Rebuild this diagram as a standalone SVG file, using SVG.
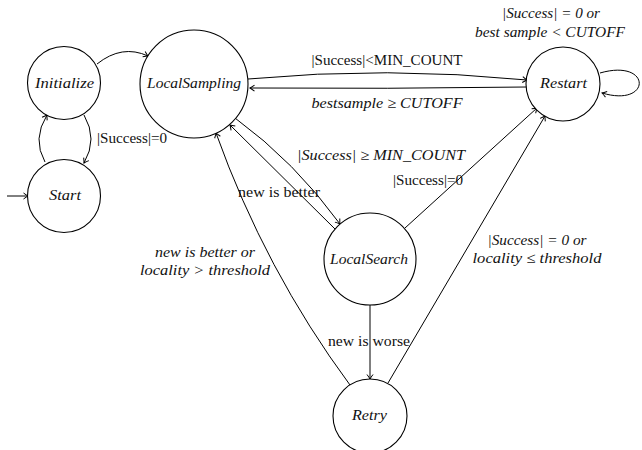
<svg xmlns="http://www.w3.org/2000/svg" width="642" height="450" viewBox="0 0 642 450">
  <style>
    .state { fill: #fff; stroke: #000; stroke-width: 1.1; }
    .edge { fill: none; stroke: #000; stroke-width: 1; marker-end: url(#tip); }
    .lbl { font-family: 'Liberation Serif', 'DejaVu Serif', serif; font-size: 15px; fill: #111; text-anchor: middle; }
    .it { font-style: italic; }
  </style>
  <defs>
    <marker id="tip" markerUnits="userSpaceOnUse" markerWidth="10" markerHeight="10" viewBox="-6 -5 8 10" refX="0" refY="0" orient="auto">
      <path d="M-4.5,-3 Q-1.5,-0.8 0,0 Q-1.5,0.8 -4.5,3" fill="none" stroke="#000" stroke-width="1"/>
    </marker>
  </defs>

  <!-- transitions -->
  <g id="edges">
    <path class="edge" d="M7,196 L28,196"/>
    <path class="edge" d="M45,162 Q32,139 47,115"/>
    <path class="edge" d="M84,115 Q98,139 84,163"/>
    <path class="edge" d="M97,64 Q122,44 148,56"/>
    <path class="edge" d="M248,79 Q387,66 527,80"/>
    <path class="edge" d="M527,87 Q387,89 250,88"/>
    <path class="edge" d="M600,73 C652,58 652,108 602,93"/>
    <path class="edge" d="M235,118 Q295,162 340,224"/>
    <path class="edge" d="M335,229 L230,125"/>
    <path class="edge" d="M405,228 L537,108"/>
    <path class="edge" d="M370,305 L370,379"/>
    <path class="edge" d="M350,385 Q265,270 216,133"/>
    <path class="edge" d="M388,383 L545,116"/>

    <text class="lbl" x="132" y="143" textLength="70" lengthAdjust="spacingAndGlyphs">|Success|=0</text>
    <text class="lbl" x="387" y="65" textLength="151" lengthAdjust="spacingAndGlyphs">|Success|&lt;MIN_COUNT</text>
    <text class="lbl it" x="387" y="108" textLength="151" lengthAdjust="spacingAndGlyphs">bestsample ≥ CUTOFF</text>
    <text class="lbl it" x="551" y="18" textLength="98" lengthAdjust="spacingAndGlyphs">|Success| = 0 or</text>
    <text class="lbl it" x="550" y="37" textLength="150" lengthAdjust="spacingAndGlyphs">best sample &lt; CUTOFF</text>
    <text class="lbl it" x="381" y="160" textLength="168" lengthAdjust="spacingAndGlyphs">|Success| ≥ MIN_COUNT</text>
    <text class="lbl" x="428" y="185" textLength="70" lengthAdjust="spacingAndGlyphs">|Success|=0</text>
    <text class="lbl" x="279" y="197" textLength="82" lengthAdjust="spacingAndGlyphs">new is better</text>
    <text class="lbl it" x="205" y="257" textLength="100" lengthAdjust="spacingAndGlyphs">new is better or</text>
    <text class="lbl it" x="205" y="275" textLength="130" lengthAdjust="spacingAndGlyphs">locality &gt; threshold</text>
    <text class="lbl" x="369" y="346" textLength="82" lengthAdjust="spacingAndGlyphs">new is worse</text>
    <text class="lbl it" x="537" y="245" textLength="99" lengthAdjust="spacingAndGlyphs">|Success| = 0 or</text>
    <text class="lbl it" x="537" y="263" textLength="129" lengthAdjust="spacingAndGlyphs">locality ≤ threshold</text>
  </g>

  <!-- states -->
  <g id="initialize">
    <circle class="state" cx="64" cy="83" r="36.5"/>
    <text class="lbl it" x="64.5" y="88" textLength="59" lengthAdjust="spacingAndGlyphs">Initialize</text>
  </g>
  <g id="start">
    <circle class="state" cx="64" cy="196" r="36.5"/>
    <text class="lbl it" x="65" y="200" textLength="32" lengthAdjust="spacingAndGlyphs">Start</text>
  </g>
  <g id="localsampling">
    <circle class="state" cx="194" cy="84" r="54"/>
    <text class="lbl it" x="194" y="88" textLength="94" lengthAdjust="spacingAndGlyphs">LocalSampling</text>
  </g>
  <g id="restart">
    <circle class="state" cx="563" cy="84" r="37"/>
    <text class="lbl it" x="563.5" y="88" textLength="47" lengthAdjust="spacingAndGlyphs">Restart</text>
  </g>
  <g id="localsearch">
    <circle class="state" cx="370" cy="259" r="46"/>
    <text class="lbl it" x="369" y="264" textLength="78" lengthAdjust="spacingAndGlyphs">LocalSearch</text>
  </g>
  <g id="retry">
    <circle class="state" cx="370" cy="416" r="37"/>
    <text class="lbl it" x="369.5" y="420" textLength="35" lengthAdjust="spacingAndGlyphs">Retry</text>
  </g>
</svg>
